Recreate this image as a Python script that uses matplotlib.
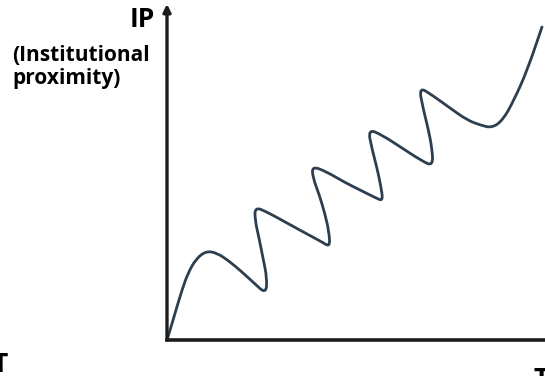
import matplotlib.pyplot as plt
from matplotlib.path import Path
from matplotlib.patches import PathPatch

# Curve shape: x = time, y = institutional proximity
# (units are pixel offsets from the origin of the axes; points at the turns
#  sit on the outside of each bend, the curve is drawn as a smooth spline)
curve_x = [0, 4, 9, 15, 21, 29, 39, 50, 62, 75, 87, 99,
           100, 96, 92, 88, 88,
           100, 120, 140, 155, 163,
           162, 158, 152, 146, 145,
           160, 177, 195, 209, 216,
           214, 210, 205, 201,
           215, 235, 255, 266,
           265, 261, 256, 252,
           265, 283, 300, 313, 325, 336, 347, 360, 375]
curve_y = [0, 13, 30, 50, 67, 81, 89, 87, 79, 68, 57, 46,
           62, 82, 102, 120, 133,
           128, 117, 106, 98, 93,
           108, 126, 146, 162, 174,
           168, 158, 149, 142, 139,
           153, 172, 191, 211,
           205, 192, 179, 174,
           192, 212, 232, 253,
           245, 232, 220, 215, 212, 220, 240, 269, 313]

y_label = "IP"
y_desc = ["(Institutional", "proximity)"]
x_label = "T"

W, H = 545, 376
fig = plt.figure(figsize=(W / 100, H / 100), dpi=100)
ax = fig.add_axes([167 / W, 36 / H, (W - 167) / W, (340 - 4) / H])
ax.set_xlim(0, W - 167)
ax.set_ylim(0, 340 - 4)
ax.set_xticks([])
ax.set_yticks([])
for side in ["top", "right", "left"]:
    ax.spines[side].set_visible(False)
ax.spines["bottom"].set_linewidth(2.6)
ax.spines["bottom"].set_color("#1c1c1c")

# y axis with arrow head
ax.annotate("", xy=(0, 1.0), xytext=(0, 0), xycoords="axes fraction",
            arrowprops=dict(arrowstyle="-|>", lw=2.4, color="#1c1c1c",
                            mutation_scale=11, shrinkA=0, shrinkB=0))

# smooth curve: quadratic beziers through midpoints of the points
pts = list(zip(curve_x, curve_y))
verts = [pts[0]]
codes = [Path.MOVETO]
for i in range(1, len(pts) - 1):
    mid = ((pts[i][0] + pts[i + 1][0]) / 2, (pts[i][1] + pts[i + 1][1]) / 2)
    verts += [pts[i], mid]
    codes += [Path.CURVE3, Path.CURVE3]
verts.append(pts[-1])
codes.append(Path.LINETO)
ax.add_patch(PathPatch(Path(verts, codes), facecolor="none", edgecolor="#2d3e4e",
                       lw=2.0, capstyle="round", joinstyle="round", clip_on=False))

font = dict(family=["Open Sans", "DejaVu Sans"], fontweight="bold", color="black")
fig.text(155 / W, (H - 27) / H, y_label, ha="right", va="baseline", fontsize=19, **font)
fig.text(12 / W, (H - 61) / H, y_desc[0], ha="left", va="baseline", fontsize=15, **font)
fig.text(12 / W, (H - 84) / H, y_desc[1], ha="left", va="baseline", fontsize=15, **font)
fig.text(0.5 / W, (H - 372) / H, x_label, ha="center", va="baseline", fontsize=19, **font)
fig.text(541.5 / W, (H - 387) / H, x_label, ha="center", va="baseline", fontsize=19, **font)

fig.savefig("out.png", dpi=100)
